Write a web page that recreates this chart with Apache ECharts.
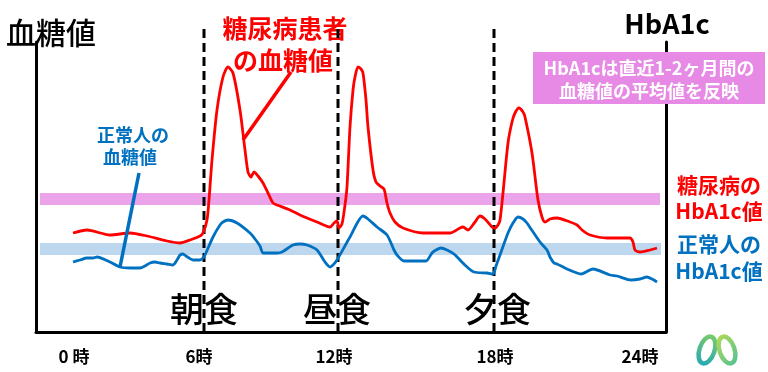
<!DOCTYPE html>
<html>
<head>
<meta charset="utf-8">
<script src="https://cdn.jsdelivr.net/npm/echarts@6/dist/echarts.min.js"></script>
<style>
html,body{margin:0;padding:0;background:#fff;}
#chart{width:768px;height:372px;}
</style>
</head>
<body>
<div id="chart"></div>
<script>
// ---- data (x: position along the day axis, y: glucose level, arbitrary units) ----
const tickPos = [38, 163, 298, 459, 604];
const tickLabels = ['0 時', '6時', '12時', '18時', '24時'];
const mealPos = [168, 302, 458];
const mealLabels = ['朝食', '昼食', '夕食'];

const diabeticGlucose = [
  [37,99],[51,102],[74,97],[94,99],[111,96],[131,91],[144,89],[154,92],[164,96],[167,99],
  [171,112],[173,132],[176,172],[181,222],[187,255],[192,265],[197,259],[204,222],[209,182],
  [212,160],[215,155],[218,160],[222,156],[227,149],[232,139],[237,129],[241,127],[254,122],
  [264,117],[281,110],[294,105],[298,109],[301,111],[303,104],[306,108],[309,127],[311,145],
  [314,205],[317,242],[319,255],[322,265],[325,263],[327,259],[330,232],[332,205],[337,162],
  [340,150],[344,146],[348,143],[351,129],[354,119],[359,110],[367,104],[387,99],[407,99],
  [414,99],[424,104],[427,105],[432,102],[439,110],[444,116],[449,113],[456,105],[459,104],
  [462,107],[464,112],[467,139],[472,189],[476,210],[479,219],[483,224],[487,220],[489,215],
  [496,179],[502,132],[506,115],[509,110],[514,113],[521,114],[534,110],[541,107],[546,102],
  [554,97],[571,94],[594,94],[597,90],[599,82],[604,80],[614,82],[621,84]
];
const normalGlucose = [
  [37,70],[44,72],[51,74],[57,74],[61,75],[74,70],[84,65],[94,64],[104,64],[109,66],[114,69],
  [119,70],[124,69],[131,68],[137,67],[141,72],[144,77],[147,78],[150,76],[157,72],[164,72],
  [167,74],[169,77],[177,95],[184,107],[187,110],[192,112],[201,109],[214,99],[219,93],
  [224,86],[227,79],[234,79],[241,79],[246,80],[257,87],[264,88],[271,87],[281,82],[289,70],
  [294,65],[297,67],[301,72],[314,95],[327,116],[332,113],[341,105],[351,97],[358,82],[361,77],
  [368,71],[379,71],[390,71],[396,79],[400,82],[405,84],[411,82],[418,78],[424,72],[430,66],
  [438,60],[451,59],[457,58],[460,66],[464,77],[472,99],[477,109],[482,115],[487,113],
  [491,109],[495,103],[504,90],[511,82],[514,75],[518,69],[521,68],[531,63],[541,59],
  [545,58],[557,63],[574,57],[581,56],[595,52],[604,53],[611,55],[616,53],[621,50]
];
const diabeticHbA1c = [127, 139];   // band low/high
const normalHbA1c = [77, 89];
const bandRange = [4, 624];
const dashedTop = 304;
const redPointer = [[255,260],[207,192]];
const bluePointer = [[103,159],[84,65]];

const RED = '#FF0000';
const BLUE = '#0070C0';
const FONT = '"Noto Sans CJK JP", "Noto Sans", sans-serif';

const chart = echarts.init(document.getElementById('chart'), null, {renderer: 'canvas'});

const series = [];
// bands
series.push({
  type: 'line', data: [], silent: true,
  markArea: {
    silent: true,
    data: [
      [{coord: [bandRange[0], diabeticHbA1c[0]], itemStyle: {color: '#EBA3EA'}}, {coord: [bandRange[1], diabeticHbA1c[1]]}],
      [{coord: [bandRange[0], normalHbA1c[0]], itemStyle: {color: '#BDD7EE'}}, {coord: [bandRange[1] + 1, normalHbA1c[1]]}]
    ]
  }
});
// dashed meal lines
mealPos.forEach(function (x) {
  series.push({
    type: 'line', data: [[x, 0], [x, dashedTop]], symbol: 'none', clip: false, z: 4,
    lineStyle: {color: '#000', width: 3, type: [9, 5]}, silent: true
  });
});
series.push({
  type: 'line', data: diabeticGlucose, symbol: 'none', smooth: 0.25, z: 5,
  lineStyle: {color: RED, width: 2.8}
});
series.push({
  type: 'line', data: normalGlucose, symbol: 'none', smooth: 0.25, z: 5,
  lineStyle: {color: BLUE, width: 2.8}
});
series.push({
  type: 'line', data: redPointer, symbol: 'none', clip: false, z: 5,
  lineStyle: {color: RED, width: 3.5}
});
series.push({
  type: 'line', data: bluePointer, symbol: 'none', clip: false, z: 5,
  lineStyle: {color: BLUE, width: 3.5}
});

function txt(text, x, y, size, color, weight, align) {
  return {
    type: 'text', x: x, y: y, z: 1,
    style: {
      text: text, fill: color, font: (weight || 'bold') + ' ' + size + 'px ' + FONT,
      align: align || 'center', verticalAlign: 'middle'
    }
  };
}

const graphics = [
  txt('血糖値', 6, 33, 30, '#000', '500', 'left'),
  txt('HbA1c', 667, 24, 27, '#000', 'bold'),
  {type: 'rect', z: 1, shape: {x: 533, y: 52, width: 232, height: 52}, style: {fill: '#E68AE6'}},
  txt('HbA1cは直近1-2ヶ月間の', 649, 68, 18, '#fff', 'bold'),
  txt('血糖値の平均値を反映', 649, 91, 18, '#fff', 'bold'),
  txt('糖尿病患者', 285, 28, 25, RED, 'bold'),
  txt('の血糖値', 283, 60, 25, RED, 'bold'),
  txt('正常人の', 133, 135, 18, BLUE, 'bold'),
  txt('血糖値', 130, 157, 18, BLUE, 'bold'),
  txt('糖尿病の', 719, 185, 21, RED, 'bold'),
  txt('HbA1c値', 719, 211, 21, RED, 'bold'),
  txt('正常人の', 719, 244, 21, BLUE, 'bold'),
  txt('HbA1c値', 719, 271, 21, BLUE, 'bold'),
  {type: 'ellipse', z: 1, x: 707, y: 350, rotation: -0.33,
   shape: {cx: 0, cy: 0, rx: 7.5, ry: 14},
   style: {fill: 'none', lineWidth: 4.5,
     stroke: new echarts.graphic.LinearGradient(0, 1, 0, 0, [{offset: 0, color: '#22A9B5'}, {offset: 1, color: '#7CCB6A'}])}},
  {type: 'ellipse', z: 1, x: 727, y: 350, rotation: 0.33,
   shape: {cx: 0, cy: 0, rx: 7.5, ry: 14},
   style: {fill: 'none', lineWidth: 4.5,
     stroke: new echarts.graphic.LinearGradient(0, 0, 1, 1, [{offset: 0, color: '#B8DC50'}, {offset: 1, color: '#4DBF9A'}])}}
];
// meal labels drawn beneath the dashed lines
const mealY = 309;
const mealPx = [204, 337, 497];
mealLabels.forEach(function (m, i) {
  graphics.push(txt(m, mealPx[i], mealY, 34, '#000', '500'));
});

chart.setOption({
  animation: false,
  backgroundColor: '#fff',
  grid: {left: 36, right: 102, top: 42, bottom: 40},
  xAxis: {
    type: 'value', min: 0, max: 630,
    axisLine: {show: true, lineStyle: {color: '#000', width: 3}},
    axisTick: {show: false},
    splitLine: {show: false},
    axisLabel: {
      customValues: tickPos,
      margin: 16,
      color: '#000', fontSize: 17, fontWeight: 'bold', fontFamily: FONT,
      formatter: function (v) { const i = tickPos.indexOf(v); return i >= 0 ? tickLabels[i] : ''; }
    }
  },
  yAxis: [
    {type: 'value', min: 0, max: 290, position: 'left',
     axisLine: {show: true, lineStyle: {color: '#000', width: 3}},
     axisTick: {show: false}, axisLabel: {show: false}, splitLine: {show: false}},
    {type: 'value', min: 0, max: 290, position: 'right',
     axisLine: {show: true, lineStyle: {color: '#000', width: 3}},
     axisTick: {show: false}, axisLabel: {show: false}, splitLine: {show: false}}
  ],
  graphic: graphics,
  series: series
});
</script>
</body>
</html>
